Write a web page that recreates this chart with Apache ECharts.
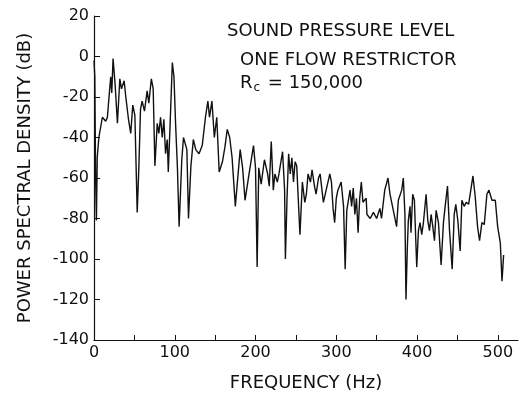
<!DOCTYPE html>
<html>
<head>
<meta charset="utf-8">
<script src="https://cdn.jsdelivr.net/npm/echarts@6/dist/echarts.min.js"></script>
<style>
html, body { margin: 0; padding: 0; background: #fff; }
#chart { width: 521px; height: 394px; }
</style>
</head>
<body>
<div id="chart"></div>
<script>
// frequency (Hz) and power spectral density (dB)
var freq = [0, 1, 2, 3, 4, 6, 10.4, 14.5, 16.6, 18.6, 20.7, 22, 23.6, 26, 29, 32, 34, 37.3, 39.4, 42.7,
	45.5, 48, 50.6, 53.5, 55.6, 57.6, 59.6, 62.5, 65.8, 67.9, 71, 73.3, 75.4, 78.3, 80.3, 82.4, 84.5, 86.5, 88.6, 90.7,
	92, 94, 97, 99, 101, 103.3, 105.4, 108.7, 110.8, 115, 117, 120, 123, 126, 130, 134, 138, 141, 143, 146,
	149, 152, 155, 159, 162, 165, 168, 171, 175, 181, 184, 187, 192, 197.5, 200, 202, 204, 207, 211, 215,
	217, 219.5, 222, 224, 227, 229, 233.5, 236, 237, 239, 241, 243, 245, 247, 249, 251, 255, 258, 261, 263,
	265, 268, 270, 273, 275, 278, 280, 284, 288, 292, 294, 296, 298, 300, 302, 306, 309, 311, 313, 317,
	319, 321, 323, 325, 327, 329, 331, 333, 337, 338, 342, 346, 350, 354, 356, 360, 364, 366.5, 370.6, 374.7,
	376.8, 381, 383, 385, 386.3, 388, 389.2, 391.3, 392.5, 394.6, 396.7, 399.6, 401.7, 403.7, 405.8, 407.9, 411.2, 413.3, 415.4, 417.4,
	419.5, 421.6, 423.6, 426.5, 429.8, 432.7, 434.8, 437.7, 440.2, 443.5, 446, 448, 450.5, 453.4, 455.5, 458.4, 460.9, 463.8, 465.8, 469.2,
	472, 474.9, 477.4, 480.3, 483.2, 486.5, 489, 492.8, 496.9, 499.8, 503.1, 505.2, 507.2];
var psd = [-2, -10, -60, -81, -50, -40, -30, -32, -30, -20, -10, -18, -1, -13, -33, -11, -16, -12, -20, -31,
	-38, -24, -29, -77, -54, -26, -22, -27, -17, -23, -11, -16, -54, -33, -38, -30, -40, -31, -48, -41,
	-57, -36, -3, -10, -33, -55, -84, -51, -40, -46, -80, -54, -41, -46, -48, -44, -30, -22, -30, -22,
	-40, -30, -57, -52, -45, -36, -40, -50, -74, -46, -55, -71, -58, -44, -55, -104, -55, -63, -51, -58,
	-64, -42, -66, -58, -62, -58, -47, -66, -100, -70, -48, -58, -50, -62, -52, -54, -88, -62, -72, -68,
	-58, -62, -56, -64, -68, -60, -58, -72, -65, -58, -62, -75, -82, -70, -66, -62, -74, -105, -76, -66,
	-74, -65, -78, -70, -87, -70, -62, -72, -70, -78, -80, -77, -80, -75, -80, -66, -60, -68, -76, -84,
	-71, -66, -60, -78, -120, -94, -81, -74, -87, -68, -71, -104, -86, -82, -88, -82, -68, -81, -86, -78,
	-84, -91, -76, -82, -103, -82, -74, -64, -86, -105, -78, -73, -81, -96, -71, -74, -72, -73, -68, -59,
	-69, -84, -91, -82, -83, -68, -66, -71, -71, -84, -92, -111, -98];

var xLabelTicks = [0, 100, 200, 300, 400, 500];
var xMarkTicks = [0, 50, 100, 150, 200, 250, 300, 350, 400, 450, 500];

var font = 'DejaVu Sans';
var ink = '#111';

var chart = echarts.init(document.getElementById('chart'));
var points = freq.map(function (f, i) { return [f, psd[i]]; });

chart.setOption({
	animation: false,
	backgroundColor: '#fff',
	grid: { left: 94, right: 3, top: 16, bottom: 54, outerBoundsMode: 'none', containLabel: false },
	graphic: [
		{ type: 'text', left: 227, top: 22, style: { text: 'SOUND PRESSURE LEVEL', font: '18px "DejaVu Sans"', fill: ink } },
		{ type: 'text', left: 240, top: 51, style: { text: 'ONE FLOW RESTRICTOR', font: '18px "DejaVu Sans"', fill: ink } },
		{ type: 'text', left: 240, top: 74, style: {
			text: '{r|R}{s|c}{r| = 150,000}',
			rich: {
				r: { fontFamily: font, fontSize: 18, fill: ink, color: ink },
				s: { fontFamily: font, fontSize: 12, fill: ink, color: ink, padding: [9, 2, 0, 1] }
			}
		} }
	],
	xAxis: {
		type: 'value',
		min: 0,
		max: 525,
		name: 'FREQUENCY (Hz)',
		nameLocation: 'middle',
		nameGap: 34,
		nameTextStyle: { fontFamily: font, fontSize: 18, color: ink },
		axisLine: { onZero: false, lineStyle: { color: ink, width: 1.2 } },
		axisTick: { inside: true, length: 5, customValues: xMarkTicks, lineStyle: { color: ink } },
		axisLabel: { customValues: xLabelTicks, fontFamily: font, fontSize: 16, color: ink, margin: 5 },
		splitLine: { show: false }
	},
	yAxis: {
		type: 'value',
		min: -140,
		max: 20,
		interval: 20,
		name: 'POWER SPECTRAL DENSITY (dB)',
		nameLocation: 'middle',
		nameGap: 60,
		nameTextStyle: { fontFamily: font, fontSize: 18, color: ink },
		axisLine: { show: true, onZero: false, lineStyle: { color: ink, width: 1.2 } },
		axisTick: { show: true, inside: true, length: 6, lineStyle: { color: ink } },
		axisLabel: { fontFamily: font, fontSize: 16, color: ink, margin: 5 },
		splitLine: { show: false }
	},
	series: [{
		type: 'line',
		data: points,
		showSymbol: false,
		lineStyle: { color: ink, width: 1.4 },
		clip: true
	}]
});
</script>
</body>
</html>
